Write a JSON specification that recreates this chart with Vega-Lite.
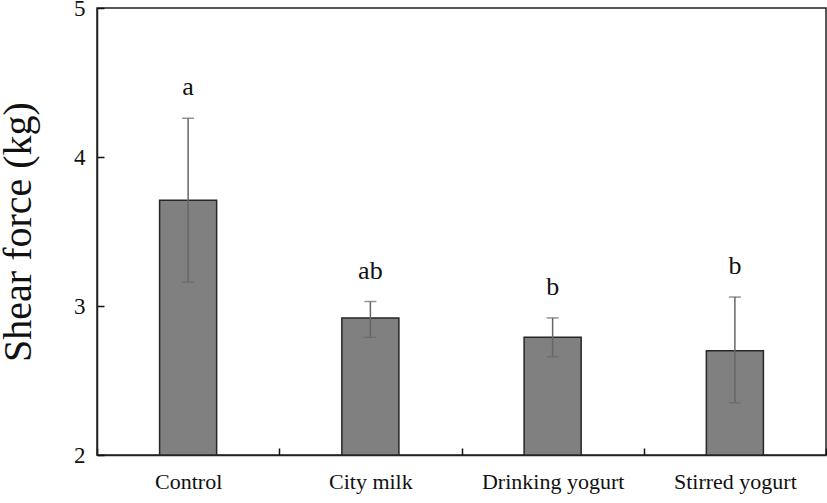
{
  "$schema": "https://vega.github.io/schema/vega-lite/v6.json",
  "width": 729,
  "height": 447,
  "autosize": {"type": "none"},
  "padding": {"left": 97, "top": 8, "right": 1, "bottom": 48},
  "background": "white",
  "config": {
    "font": "Liberation Serif",
    "view": {"stroke": "#222222", "strokeWidth": 1.5},
    "axis": {"domainColor": "#222222", "domainWidth": 1.5, "tickColor": "#111111", "tickWidth": 1.5, "labelColor": "#111111", "titleColor": "#111111", "labelFont": "Liberation Serif", "titleFont": "Liberation Serif", "grid": false}
  },
  "data": {
    "values": [
      {"group": "Control", "mean": 3.71, "lower": 3.16, "upper": 4.26, "letter": "a"},
      {"group": "City milk", "mean": 2.92, "lower": 2.79, "upper": 3.03, "letter": "ab"},
      {"group": "Drinking yogurt", "mean": 2.79, "lower": 2.66, "upper": 2.92, "letter": "b"},
      {"group": "Stirred yogurt", "mean": 2.70, "lower": 2.35, "upper": 3.06, "letter": "b"}
    ]
  },
  "encoding": {
    "x": {
      "field": "group", "type": "nominal", "sort": null,
      "scale": {"paddingInner": 0, "paddingOuter": 0},
      "axis": {"title": null, "labelAngle": 0, "labelFont": "Liberation Serif", "labelFontSize": 22, "labelPadding": 23, "tickBand": "extent", "tickSize": -7, "labelBaseline": "top"}
    }
  },
  "layer": [
    {
      "mark": {"type": "bar", "width": {"band": 0.313}, "fill": "#808080", "stroke": "#262626", "strokeWidth": 1.5},
      "encoding": {
        "y": {
          "field": "mean", "type": "quantitative", "title": "Shear force (kg)",
          "scale": {"domain": [2, 5], "zero": false, "nice": false},
          "axis": {"title": "Shear force (kg)", "titleFont": "Liberation Serif", "titleFontSize": 40, "titleFontWeight": "normal", "titlePadding": 35, "values": [2, 3, 4, 5], "format": "d", "labelFont": "Liberation Serif", "labelFontSize": 23, "labelPadding": 19, "tickSize": -7}
        },
        "y2": {"datum": 2}
      }
    },
    {
      "mark": {"type": "errorbar", "ticks": {"size": 12, "color": "#666666", "strokeWidth": 1.5}, "color": "#666666", "thickness": 1.5},
      "encoding": {
        "y": {"field": "lower", "type": "quantitative", "title": "Shear force (kg)"},
        "y2": {"field": "upper"}
      }
    },
    {
      "mark": {"type": "text", "fontSize": 26, "baseline": "bottom", "dy": -18, "color": "#111111", "font": "Liberation Serif"},
      "encoding": {
        "y": {"field": "upper", "type": "quantitative", "title": "Shear force (kg)"},
        "text": {"field": "letter"}
      }
    }
  ]
}
